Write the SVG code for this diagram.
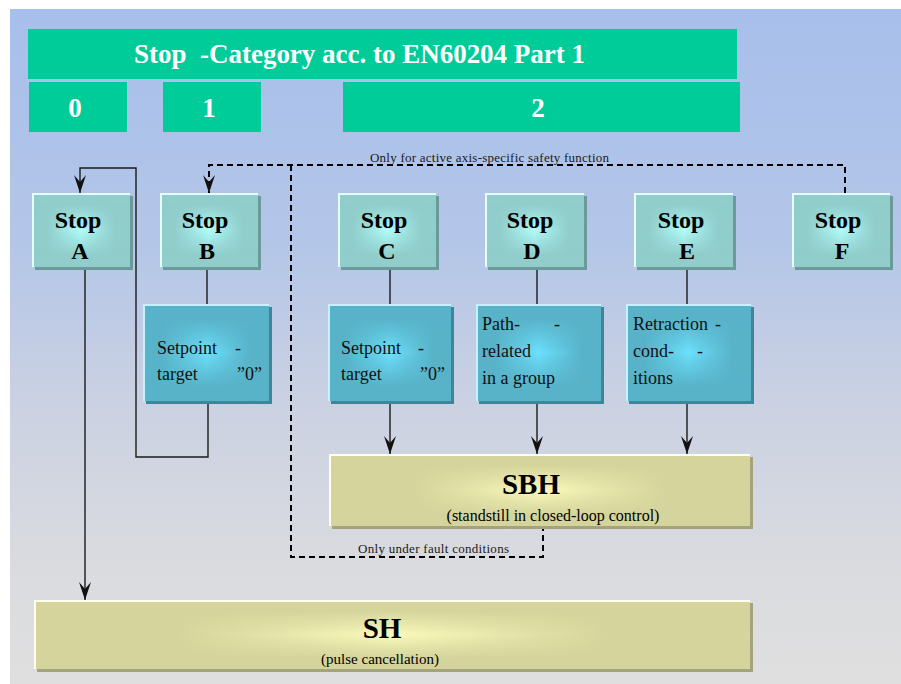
<svg xmlns="http://www.w3.org/2000/svg" width="901" height="684" viewBox="0 0 901 684">
<defs>
<linearGradient id="bg" x1="0" y1="0" x2="0" y2="1">
<stop offset="0" stop-color="#a7bfeb"/>
<stop offset="0.35" stop-color="#b4c6e8"/>
<stop offset="0.6" stop-color="#ccd2e2"/>
<stop offset="0.85" stop-color="#dbdcdf"/>
<stop offset="1" stop-color="#dfdfdf"/>
</linearGradient>
<linearGradient id="vm" x1="0" y1="0" x2="0" y2="1">
<stop offset="0" stop-color="#000"/>
<stop offset="0.15" stop-color="#000"/>
<stop offset="0.5" stop-color="#fff"/>
<stop offset="0.85" stop-color="#000"/>
<stop offset="1" stop-color="#000"/>
</linearGradient>
<mask id="mv" maskContentUnits="objectBoundingBox"><rect width="1" height="1" fill="url(#vm)"/></mask>
<linearGradient id="gStop" x1="0" y1="0" x2="1" y2="0">
<stop offset="0" stop-color="#90cdcb"/>
<stop offset="0.15" stop-color="#90cdcb"/>
<stop offset="0.5" stop-color="#b0fcfa"/>
<stop offset="0.85" stop-color="#90cdcb"/>
<stop offset="1" stop-color="#90cdcb"/>
</linearGradient>
<linearGradient id="gBlue" x1="0" y1="0" x2="1" y2="0">
<stop offset="0" stop-color="#58b3c9"/>
<stop offset="0.15" stop-color="#58b3c9"/>
<stop offset="0.5" stop-color="#6ce0fc"/>
<stop offset="0.85" stop-color="#58b3c9"/>
<stop offset="1" stop-color="#58b3c9"/>
</linearGradient>
<linearGradient id="gYel" x1="0" y1="0" x2="1" y2="0">
<stop offset="0" stop-color="#d4d49c"/>
<stop offset="0.2" stop-color="#d4d49c"/>
<stop offset="0.5" stop-color="#fafabc"/>
<stop offset="0.8" stop-color="#d4d49c"/>
<stop offset="1" stop-color="#d4d49c"/>
</linearGradient>
<marker id="arr" viewBox="0 0 18 12" refX="18" refY="6" markerWidth="18" markerHeight="12" markerUnits="userSpaceOnUse" orient="auto">
<path d="M0,0 L18,6 L0,12 L7,6 Z" fill="#111"/>
</marker>
<style>
.hdr{fill:#00cc99}
.ht{font-family:"Liberation Serif",serif;font-weight:bold;fill:#fff}
.st{font-family:"Liberation Serif",serif;font-weight:bold;font-size:24px;fill:#000;text-anchor:middle}
.bt{font-family:"Liberation Serif",serif;font-size:18px;fill:#111}
.yt{font-family:"Liberation Serif",serif;fill:#000;text-anchor:middle}
.lb{font-family:"Liberation Serif",serif;font-size:13px;fill:#1a1a1a}
.sSh{fill:#6b9a9a}
.sBase{fill:#90cdcb}
.bSh{fill:#3e8599}
.bBase{fill:#58b3c9}
.ySh{fill:#a4a47c}
.yBase{fill:#d4d49c}
.hiS{fill:none;stroke:#e4fefe;stroke-width:2}
.hiB{fill:none;stroke:#c6f2ff;stroke-width:2}
.hiY{fill:none;stroke:#fffff0;stroke-width:2}
.ln{fill:none;stroke:#1a1a1a;stroke-width:1.4}
.dl{fill:none;stroke:#000;stroke-width:2;stroke-dasharray:6,4}
</style>
</defs>

<rect x="10" y="9" width="891" height="675" fill="url(#bg)"/>

<g id="header">
<rect class="hdr" x="28" y="29" width="709" height="50"/>
<text class="ht" x="134" y="63" font-size="27" xml:space="preserve" textLength="451">Stop  -Category acc. to EN60204 Part 1</text>
</g>
<g id="cat0"><rect class="hdr" x="29" y="82" width="98" height="50"/><text class="ht" x="75" y="117" font-size="27" text-anchor="middle">0</text></g>
<g id="cat1"><rect class="hdr" x="163" y="82" width="98" height="50"/><text class="ht" x="209" y="117" font-size="27" text-anchor="middle">1</text></g>
<g id="cat2"><rect class="hdr" x="343" y="82" width="397" height="50"/><text class="ht" x="538" y="117" font-size="27" text-anchor="middle">2</text></g>

<g id="connectors">
<path class="ln" d="M85,269 V600" marker-end="url(#arr)"/>
<path class="ln" d="M208,403 V457 H136 V168 H80 V193" marker-end="url(#arr)"/>
<path class="ln" d="M207,270 V304"/>
<path class="ln" d="M390,269 V304"/>
<path class="ln" d="M537,270 V304"/>
<path class="ln" d="M687,270 V304"/>
<path class="ln" d="M390,403 V454" marker-end="url(#arr)"/>
<path class="ln" d="M537,403 V454" marker-end="url(#arr)"/>
<path class="ln" d="M687,403 V454" marker-end="url(#arr)"/>
<path class="dl" d="M845,193 V165 H209 V193" marker-end="url(#arr)"/>
<path class="dl" d="M291,165 V557 H543 V529"/>
<text class="lb" x="370" y="162" textLength="239">Only for active axis-specific safety function</text>
<text class="lb" x="358" y="553" textLength="151">Only under fault conditions</text>
</g>

<g id="stopA">
<rect class="sSh" x="35" y="196" width="98" height="74"/>
<rect class="sBase" x="32" y="193" width="98" height="74"/>
<rect x="32" y="193" width="98" height="74" fill="url(#gStop)" mask="url(#mv)"/>
<path class="hiS" d="M33,267 V194 H130"/>
<text class="st" x="78" y="228">Stop</text><text class="st" x="80" y="259">A</text>
</g>
<g id="stopB">
<rect class="sSh" x="163" y="196" width="98" height="74"/>
<rect class="sBase" x="160" y="193" width="98" height="74"/>
<rect x="160" y="193" width="98" height="74" fill="url(#gStop)" mask="url(#mv)"/>
<path class="hiS" d="M161,267 V194 H258"/>
<text class="st" x="205" y="228">Stop</text><text class="st" x="207" y="259">B</text>
</g>
<g id="stopC">
<rect class="sSh" x="341" y="196" width="98" height="74"/>
<rect class="sBase" x="338" y="193" width="98" height="74"/>
<rect x="338" y="193" width="98" height="74" fill="url(#gStop)" mask="url(#mv)"/>
<path class="hiS" d="M339,267 V194 H436"/>
<text class="st" x="384" y="228">Stop</text><text class="st" x="387" y="259">C</text>
</g>
<g id="stopD">
<rect class="sSh" x="488" y="196" width="99" height="74"/>
<rect class="sBase" x="485" y="193" width="99" height="74"/>
<rect x="485" y="193" width="99" height="74" fill="url(#gStop)" mask="url(#mv)"/>
<path class="hiS" d="M486,267 V194 H584"/>
<text class="st" x="530" y="228">Stop</text><text class="st" x="532" y="259">D</text>
</g>
<g id="stopE">
<rect class="sSh" x="637" y="196" width="99" height="74"/>
<rect class="sBase" x="634" y="193" width="99" height="74"/>
<rect x="634" y="193" width="99" height="74" fill="url(#gStop)" mask="url(#mv)"/>
<path class="hiS" d="M635,267 V194 H733"/>
<text class="st" x="681" y="228">Stop</text><text class="st" x="687" y="259">E</text>
</g>
<g id="stopF">
<rect class="sSh" x="795" y="196" width="98" height="74"/>
<rect class="sBase" x="792" y="193" width="98" height="74"/>
<rect x="792" y="193" width="98" height="74" fill="url(#gStop)" mask="url(#mv)"/>
<path class="hiS" d="M793,267 V194 H890"/>
<text class="st" x="838" y="228">Stop</text><text class="st" x="842" y="259">F</text>
</g>

<g id="boxB">
<rect class="bSh" x="146" y="307" width="126" height="97"/>
<rect class="bBase" x="143" y="304" width="126" height="97"/>
<rect x="143" y="304" width="126" height="97" fill="url(#gBlue)" mask="url(#mv)"/>
<path class="hiB" d="M144,401 V305 H269"/>
<text class="bt" x="157" y="354">Setpoint</text><text class="bt" x="235" y="354">-</text>
<text class="bt" x="157" y="380">target</text><text class="bt" x="262" y="380" text-anchor="end">”0”</text>
</g>
<g id="boxC">
<rect class="bSh" x="331" y="307" width="123" height="97"/>
<rect class="bBase" x="328" y="304" width="123" height="97"/>
<rect x="328" y="304" width="123" height="97" fill="url(#gBlue)" mask="url(#mv)"/>
<path class="hiB" d="M329,401 V305 H451"/>
<text class="bt" x="341" y="354">Setpoint</text><text class="bt" x="418" y="354">-</text>
<text class="bt" x="341" y="380">target</text><text class="bt" x="445" y="380" text-anchor="end">”0”</text>
</g>
<g id="boxD">
<rect class="bSh" x="479" y="307" width="125" height="97"/>
<rect class="bBase" x="476" y="304" width="125" height="97"/>
<rect x="476" y="304" width="125" height="97" fill="url(#gBlue)" mask="url(#mv)"/>
<path class="hiB" d="M477,401 V305 H601"/>
<text class="bt" x="482" y="330">Path-</text><text class="bt" x="554" y="330">-</text>
<text class="bt" x="482" y="357">related</text>
<text class="bt" x="482" y="384">in a group</text>
</g>
<g id="boxE">
<rect class="bSh" x="629" y="307" width="125" height="97"/>
<rect class="bBase" x="626" y="304" width="125" height="97"/>
<rect x="626" y="304" width="125" height="97" fill="url(#gBlue)" mask="url(#mv)"/>
<path class="hiB" d="M627,401 V305 H751"/>
<text class="bt" x="633" y="330">Retraction</text><text class="bt" x="715" y="330">-</text>
<text class="bt" x="633" y="357">cond-</text><text class="bt" x="697" y="357">-</text>
<text class="bt" x="633" y="384">itions</text>
</g>

<g id="SBH">
<rect class="ySh" x="332" y="457" width="421" height="72"/>
<rect class="yBase" x="329" y="454" width="421" height="72"/>
<rect x="329" y="454" width="421" height="72" fill="url(#gYel)" mask="url(#mv)"/>
<path class="hiY" d="M330,526 V455 H750"/>
<text class="yt" x="531" y="494" font-size="29" font-weight="bold">SBH</text>
<text class="yt" x="553" y="521" font-size="16">(standstill in closed-loop control)</text>
</g>
<g id="SH">
<rect class="ySh" x="37" y="603" width="716" height="69"/>
<rect class="yBase" x="34" y="600" width="716" height="69"/>
<rect x="34" y="600" width="716" height="69" fill="url(#gYel)" mask="url(#mv)"/>
<path class="hiY" d="M35,669 V601 H750"/>
<text class="yt" x="382" y="638" font-size="29" font-weight="bold">SH</text>
<text class="yt" x="380" y="664" font-size="15">(pulse cancellation)</text>
</g>
</svg>
